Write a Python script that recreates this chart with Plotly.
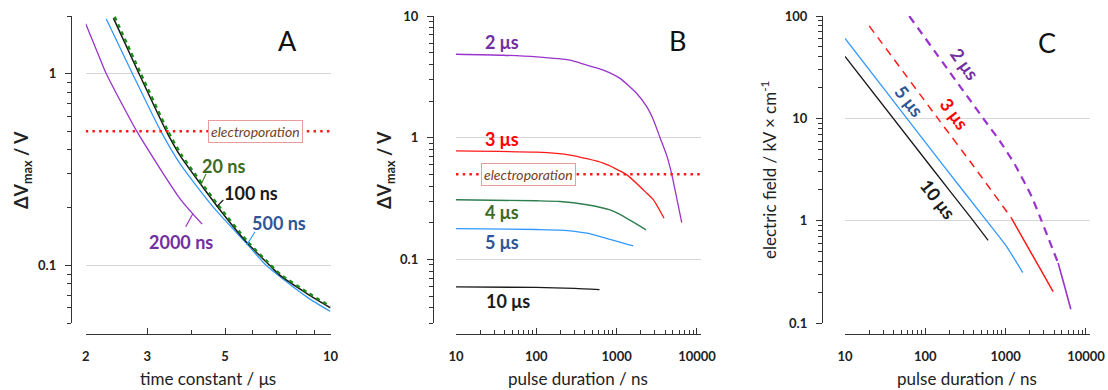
import math
import plotly.graph_objects as go

# ---------------- data ----------------
# Panel A: dV_max vs time constant (us), for different pulse durations
a_tau_20 = [2.42, 2.86, 3.42, 3.75, 4.76, 5.80, 6.72, 7.24, 8.62, 10.0]
a_v_20 = [1.98, 1.02, 0.51, 0.378, 0.208, 0.133, 0.101, 0.089, 0.072, 0.061]
a_tau_100 = [2.40, 2.84, 3.40, 3.73, 4.74, 5.78, 6.70, 7.21, 8.59, 10.0]
a_v_100 = [1.95, 1.0, 0.5, 0.371, 0.204, 0.131, 0.1, 0.088, 0.071, 0.060]
a_tau_500 = [2.29, 2.72, 3.28, 3.73, 4.64, 5.78, 6.55, 8.59, 10.0]
a_v_500 = [1.93, 1.0, 0.5, 0.336, 0.2, 0.129, 0.1, 0.068, 0.0574]
a_tau_2000 = [2.0, 2.20, 2.29, 2.80, 3.73, 4.30]
a_v_2000 = [1.82, 1.19, 1.0, 0.5, 0.221, 0.164]
electroporation_v = 0.5

# Panel B: dV_max vs pulse duration (ns), for different time constants
b_t_2us = [10, 38.8, 101, 263, 425, 682, 1100, 1780, 2370, 2870, 3470, 4200, 4850, 6460]
b_v_2us = [4.85, 4.76, 4.61, 4.33, 3.94, 3.59, 3.07, 2.31, 1.80, 1.40, 1.0, 0.715, 0.5, 0.2]
b_t_3us = [10, 100, 263, 682, 1337, 2370, 2870, 3890]
b_v_3us = [0.778, 0.76, 0.72, 0.617, 0.495, 0.35, 0.308, 0.218]
b_t_4us = [10, 100, 197, 426, 828, 1100, 2320]
b_v_4us = [0.309, 0.303, 0.299, 0.281, 0.255, 0.234, 0.175]
b_t_5us = [10, 100, 197, 426, 621, 1610]
b_v_5us = [0.179, 0.176, 0.174, 0.164, 0.154, 0.129]
b_t_10us = [10, 100, 300, 612]
b_v_10us = [0.0594, 0.0588, 0.0578, 0.0565]

# Panel C: electric field (kV/cm) vs pulse duration (ns)
c_t_10us = [10, 120, 394, 605]
c_e_10us = [40.3, 3.29, 1.0, 0.641]
c_t_5us = [10, 152, 578, 1025, 1630]
c_e_5us = [60.4, 3.81, 1.0, 0.56, 0.311]
c_t_3us_dash = [20, 150, 400, 1180]
c_e_3us_dash = [80, 9.5, 3.4, 1.06]
c_t_3us_solid = [1180, 2200, 3900]
c_e_3us_solid = [1.06, 0.447, 0.203]
c_t_2us_dash = [63, 525, 847, 1300, 2100, 2790, 4500]
c_e_2us_dash = [100, 10, 6.0, 3.54, 1.73, 1.0, 0.385]
c_t_2us_solid = [4500, 5450, 6470]
c_e_2us_solid = [0.385, 0.225, 0.136]

# axis ticks
a_x_ticks = [2, 3, 5, 10]
a_x_minor = [4, 6, 7, 8, 9]
a_y_ticks = [0.1, 1]
a_y_minor = [0.05, 0.06, 0.07, 0.08, 0.09, 0.2, 0.3, 0.4, 0.5, 0.6, 0.7, 0.8, 0.9, 2]
b_x_ticks = [10, 100, 1000, 10000]
b_x_minor = [m * d for d in (10, 100, 1000) for m in range(2, 10)]
b_y_ticks = [0.1, 1, 10]
b_y_minor = [0.03, 0.04, 0.05, 0.06, 0.07, 0.08, 0.09] + [m * d for d in (0.1, 1) for m in range(2, 10)]
c_y_ticks = [0.1, 1, 10, 100]
c_y_minor = [m * d for d in (0.1, 1, 10) for m in range(2, 10)]

# ---------------- styling ----------------
W, H = 1108, 390
FONT = "Lato, 'Open Sans', sans-serif"
PURPLE = "#9933cc"
BLUE = "#3399ff"
RED = "#ff1a1a"
GREEN_B = "#2e7d4f"
GREEN_A = "#1a8a1a"
BLACK = "#1a1a1a"
L_PURPLE = "#7030a0"
L_BLUE = "#2f5597"
L_GREEN = "#3d6b1f"
L_RED = "#ff0000"
AX = "#333333"


def px(x):
    return x / W


def py(y):
    return 1 - y / H


fig = go.Figure()


def add_line(x, y, xa, ya, color, width=1.3, dash="solid", smoothing=0.6):
    fig.add_trace(go.Scatter(
        x=x, y=y, mode="lines", xaxis=xa, yaxis=ya,
        line=dict(color=color, width=width, dash=dash, shape="spline", smoothing=smoothing),
        hoverinfo="skip", showlegend=False))


# Panel A
add_line(a_tau_2000, a_v_2000, "x", "y", PURPLE, 1.3)
add_line(a_tau_500, a_v_500, "x", "y", BLUE, 1.3)
add_line(a_tau_100, a_v_100, "x", "y", BLACK, 1.5)
add_line(a_tau_20, a_v_20, "x", "y", GREEN_A, 2.4, dash="4px,4px")
add_line([2, 10], [electroporation_v, electroporation_v], "x", "y", RED, 2.5, dash="2.5px,4.2px", smoothing=0)

# Panel B
add_line(b_t_2us, b_v_2us, "x2", "y2", PURPLE, 1.3)
add_line(b_t_3us, b_v_3us, "x2", "y2", RED, 1.3)
add_line(b_t_4us, b_v_4us, "x2", "y2", GREEN_B, 1.4)
add_line(b_t_5us, b_v_5us, "x2", "y2", BLUE, 1.3)
add_line(b_t_10us, b_v_10us, "x2", "y2", BLACK, 1.3)
add_line([10, 10 ** 4.05], [electroporation_v, electroporation_v], "x2", "y2", RED, 2.5, dash="2.5px,4.2px", smoothing=0)

# Panel C
add_line(c_t_10us, c_e_10us, "x3", "y3", BLACK, 1.3, smoothing=0.5)
add_line(c_t_5us, c_e_5us, "x3", "y3", BLUE, 1.3, smoothing=0.5)
add_line(c_t_3us_dash, c_e_3us_dash, "x3", "y3", RED, 1.5, dash="8px,6px", smoothing=0.5)
add_line(c_t_3us_solid, c_e_3us_solid, "x3", "y3", RED, 1.5, smoothing=0.5)
add_line(c_t_2us_dash, c_e_2us_dash, "x3", "y3", PURPLE, 2.2, dash="8px,6px", smoothing=0.5)
add_line(c_t_2us_solid, c_e_2us_solid, "x3", "y3", PURPLE, 1.6, smoothing=0.5)

tickfont = dict(family=FONT, size=13, color="#222222", weight="bold")
X_POS = py(334)


def xaxis(dom, rng, ticks, minor):
    return dict(
        type="log", domain=dom, range=rng, anchor="free", position=X_POS,
        showline=True, linecolor=AX, linewidth=1.3, mirror=False,
        ticks="inside", ticklen=6, tickwidth=1.3, tickcolor=AX,
        tickmode="array", tickvals=ticks, ticktext=[str(t) for t in ticks],
        tickfont=tickfont, ticklabelstandoff=10,
        minor=dict(ticks="inside", ticklen=4, tickwidth=1.1, tickcolor=AX,
                   tickmode="array", tickvals=minor, showgrid=False),
        showgrid=False, zeroline=False, automargin=False, fixedrange=True)


def yaxis(dom, rng, pos, ticks, minor):
    return dict(
        type="log", domain=dom, range=rng, anchor="free", position=pos, side="left",
        showline=True, linecolor=AX, linewidth=1.3,
        ticks="outside", ticklen=6, tickwidth=1.3, tickcolor=AX,
        tickmode="array", tickvals=ticks, ticktext=[("%g" % t) for t in ticks],
        tickfont=tickfont, ticklabelstandoff=6,
        minor=dict(ticks="outside", ticklen=3.5, tickwidth=1.1, tickcolor=AX,
                   tickmode="array", tickvals=minor, showgrid=False),
        showgrid=True, gridcolor="#d6d6d6", gridwidth=1,
        zeroline=False, automargin=False, fixedrange=True)


YDOM = [py(323), py(16)]
fig.update_layout(
    width=W, height=H, margin=dict(l=0, r=0, t=0, b=0),
    paper_bgcolor="white", plot_bgcolor="white", showlegend=False,
    font=dict(family=FONT, color="#222222"),
    xaxis=xaxis([px(85.7), px(330.5)], [math.log10(2), 1], a_x_ticks, a_x_minor),
    yaxis=yaxis(YDOM, [math.log10(0.05), math.log10(2)], px(71), a_y_ticks, a_y_minor),
    xaxis2=xaxis([px(456), px(701)], [1, 4.05], b_x_ticks, b_x_minor),
    yaxis2=yaxis(YDOM, [math.log10(0.03), 1], px(433), b_y_ticks, b_y_minor),
    xaxis3=xaxis([px(845), px(1090)], [1, 4.05], b_x_ticks, b_x_minor),
    yaxis3=yaxis(YDOM, [-1, 2], px(822), c_y_ticks, c_y_minor),
)

ann = []
shapes = []


def text(x, y, s, color, size=18, bold=True, angle=0, italic=False):
    ann.append(dict(x=px(x), y=py(y), xref="paper", yref="paper", text=s, showarrow=False,
                    xanchor="center", yanchor="middle", textangle=angle,
                    font=dict(family=FONT, size=size, color=color,
                              weight="bold" if bold else "normal",
                              style="italic" if italic else "normal")))


def leader(hx, hy, tx, ty, color):
    shapes.append(dict(type="line", xref="paper", yref="paper",
                       x0=px(hx), y0=py(hy), x1=px(tx), y1=py(ty),
                       line=dict(color=color, width=1.2)))


# panel letters
text(287, 41, "A", "#111111", size=27, bold=False)
text(677, 41, "B", "#111111", size=27, bold=False)
text(1047, 42, "C", "#111111", size=27, bold=False)

# axis titles
text(22, 170, "ΔV<sub>max</sub> / V", "#222222", size=18, bold=True, angle=-90)
text(385, 170, "ΔV<sub>max</sub> / V", "#222222", size=18, bold=True, angle=-90)
text(768, 170, "electric field / kV × cm<sup>-1</sup>", "#222222", size=17, bold=False, angle=-90)
text(208, 378.5, "time constant / μs", "#222222", size=17, bold=False)
text(578, 378.5, "pulse duration / ns", "#222222", size=17, bold=False)
text(967, 378.5, "pulse duration / ns", "#222222", size=17, bold=False)

# panel A curve labels + leaders
text(223, 166, "20 ns", L_GREEN)
text(251, 192.5, "100 ns", BLACK)
text(279, 223, "500 ns", L_BLUE)
text(181, 241.5, "2000 ns", L_PURPLE)
leader(200.7, 185, 206, 174, "#4a8a2a")
leader(216.7, 206.7, 223.3, 200, BLACK)
leader(246.7, 245, 255, 231.7, BLUE)
leader(192.7, 214, 185.7, 226.7, PURPLE)

# panel B curve labels
text(502, 42, "2 μs", L_PURPLE)
text(502, 139, "3 μs", L_RED)
text(502, 212, "4 μs", L_GREEN)
text(502, 242, "5 μs", L_BLUE)
text(508, 301, "10 μs", BLACK)

# panel C curve labels (rotated along lines)
text(965, 64, "2 μs", L_PURPLE, angle=54)
text(955, 113.5, "3 μs", L_RED, angle=53)
text(909, 101.5, "5 μs", L_BLUE, angle=52)
text(938, 199, "10 μs", BLACK, angle=52)

# electroporation boxes
for xref, yref, cx in (("paper", "y", 255), ("paper", "y2", 528.5)):
    ann.append(dict(x=px(cx), y=math.log10(electroporation_v), xref=xref, yref=yref,
                    text="electroporation", showarrow=False, xanchor="center", yanchor="middle",
                    bgcolor="white", bordercolor="#e89c9c", borderwidth=1, borderpad=2,
                    font=dict(family=FONT, size=14, color="#74431f", style="italic")))

fig.update_layout(annotations=ann, shapes=shapes)
fig.write_html("out.html", config={"displayModeBar": False},
               post_script="document.body.style.margin='0';document.body.style.overflow='hidden';")
